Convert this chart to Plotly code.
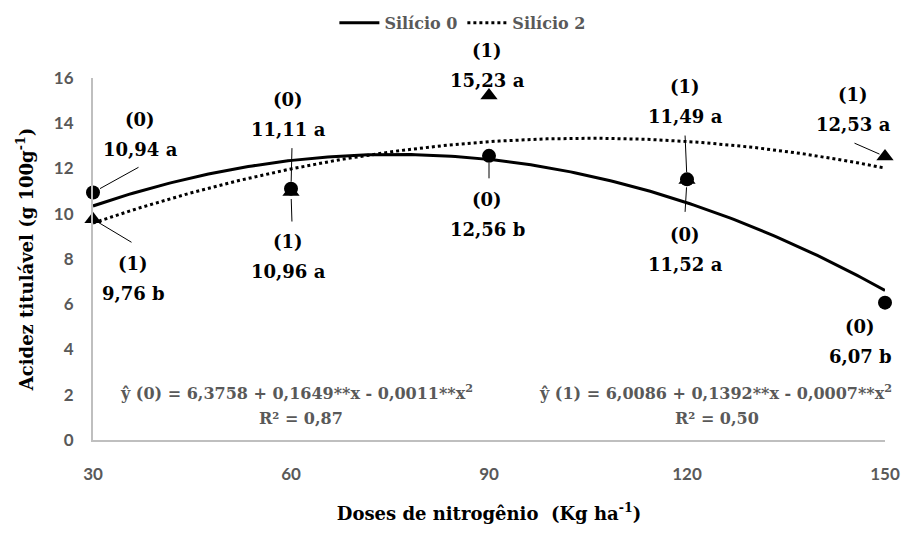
import numpy as np
import plotly.graph_objects as go

# ---------------- data ----------------
doses = [30, 60, 90, 120, 150]
silicio0 = [10.94, 11.11, 12.56, 11.52, 6.07]
silicio2 = [9.76, 10.96, 15.23, 11.49, 12.53]
labels0 = ["(0)|10,94 a", "(0)|11,11 a", "(0)|12,56 b", "(0)|11,52 a", "(0)|6,07 b"]
labels2 = ["(1)|9,76 b", "(1)|10,96 a", "(1)|15,23 a", "(1)|11,49 a", "(1)|12,53 a"]
x_ticks = [30, 60, 90, 120, 150]
y_ticks = [0, 2, 4, 6, 8, 10, 12, 14, 16]
series_names = ["Silício 0", "Silício 2"]
eq0_text = "ŷ (0) = 6,3758 + 0,1649**x - 0,0011**x<sup>2</sup>"
eq1_text = "ŷ (1) = 6,0086 + 0,1392**x - 0,0007**x<sup>2</sup>"
r2_0_text = "R² = 0,87"
r2_1_text = "R² = 0,50"
x_title = "Doses de nitrogênio  (Kg ha<sup>-1</sup>)"
y_title = "Acidez titulável (g 100g<sup>-1</sup>)"

# ---------------- styles (pixel offsets of labels) ----------------
text_off0 = [(47, -58), (-3, -74), (-2, 59), (-2, 70), (-25, 39)]
text_off2 = [(40, 59), (-3, 64), (-2, -30), (-2, -79), (-32, -47)]
lead0 = [(47, -26, 8), (1, -42, 7), (0, 24, 7), (-2, 34, 8), None]
lead2 = [(40, 24, 6), (1, 31, 7), None, (-2, -46, 8), (-32, -14, 6)]
line_gap = 30

serif = "DejaVu Serif"
sans = "Lato"
gray = "#595959"

fig = go.Figure()

xs = np.linspace(min(doses), max(doses), 200)
for vals, name, dash in [(silicio0, series_names[0], "solid"), (silicio2, series_names[1], "dot")]:
    coef = np.polyfit(doses, vals, 2)
    fig.add_trace(go.Scatter(x=xs, y=np.polyval(coef, xs), mode="lines", name=name,
                             line=dict(color="black", width=3, dash=dash)))

fig.add_trace(go.Scatter(x=doses, y=silicio0, mode="markers", showlegend=False, cliponaxis=False,
                         marker=dict(symbol="circle", size=14, color="black")))
fig.add_trace(go.Scatter(x=doses, y=silicio2, mode="markers", showlegend=False, cliponaxis=False,
                         marker=dict(symbol="triangle-up", size=15, color="black")))

annotations = []
for vals, labs, toff, leads in [(silicio0, labels0, text_off0, lead0), (silicio2, labels2, text_off2, lead2)]:
    for xd, yv, lab, (dx, dy), ld in zip(doses, vals, labs, toff, leads):
        top, bottom = lab.split("|")
        for part, off in [(top, -line_gap / 2), (bottom, line_gap / 2)]:
            annotations.append(dict(x=xd, y=yv, xref="x", yref="y", text="<b>" + part + "</b>",
                                    showarrow=False, xshift=dx, yshift=-(dy + off),
                                    font=dict(family=serif, size=18, color="black")))
        if ld is not None:
            annotations.append(dict(x=xd, y=yv, xref="x", yref="y", text="", showarrow=True,
                                    ax=ld[0], ay=ld[1], arrowhead=0, arrowwidth=1,
                                    arrowcolor="black", standoff=ld[2]))

for txt, xx, yy in [(eq0_text, 60.9, 2.14), (r2_0_text, 61.5, 0.94),
                    (eq1_text, 124.3, 2.14), (r2_1_text, 124.5, 0.94)]:
    annotations.append(dict(x=xx, y=yy, xref="x", yref="y", text="<b>" + txt + "</b>", showarrow=False,
                            font=dict(family=serif, size=16, color=gray)))

fig.update_layout(
    width=912, height=533,
    margin=dict(l=93, r=22, t=78, b=82),
    plot_bgcolor="white", paper_bgcolor="white",
    showlegend=True,
    legend=dict(orientation="h", xref="container", yref="container", x=0.507, y=0.957,
                xanchor="center", yanchor="middle",
                font=dict(family=serif, size=16, color=gray, weight="bold"), itemwidth=40),
    annotations=annotations,
)
fig.update_xaxes(range=[30, 150], tickvals=x_ticks, ticktext=[str(v) for v in x_ticks],
                 showgrid=False, zeroline=False, showline=True, linecolor="#bfbfbf", linewidth=2,
                 ticks="", ticklabelstandoff=18,
                 tickfont=dict(family=sans, size=17, color=gray, weight="bold"),
                 title=dict(text="<b>" + x_title + "</b>", font=dict(family=serif, size=18, color="black"), standoff=24))
fig.update_yaxes(range=[0, 16], tickvals=y_ticks, ticktext=[str(v) for v in y_ticks],
                 showgrid=False, zeroline=False, showline=True, linecolor="#bfbfbf", linewidth=2,
                 ticks="", ticklabelstandoff=14,
                 tickfont=dict(family=sans, size=17, color=gray, weight="bold"),
                 title=dict(text="<b>" + y_title + "</b>", font=dict(family=serif, size=18, color="black"), standoff=16))

fig.write_html("out.html")
